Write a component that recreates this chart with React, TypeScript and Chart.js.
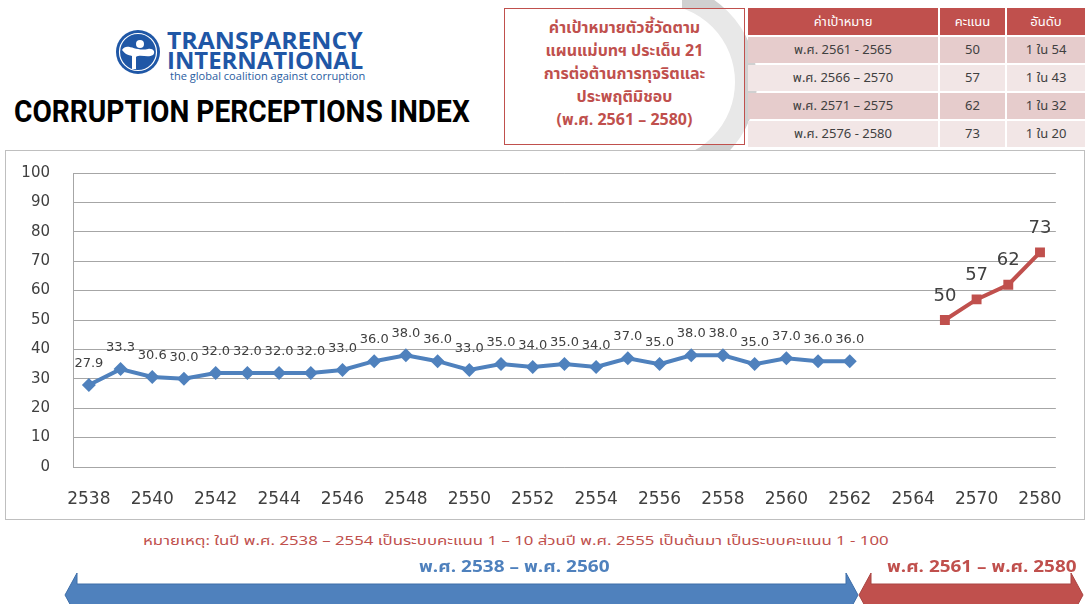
import React, { useEffect, useRef, useLayoutEffect } from "react";
import { Chart, registerables } from "chart.js";

Chart.register(...registerables);

// ---------------- data ----------------
const years = [
  "2538", "2539", "2540", "2541", "2542", "2543", "2544", "2545", "2546", "2547",
  "2548", "2549", "2550", "2551", "2552", "2553", "2554", "2555", "2556", "2557",
  "2558", "2559", "2560", "2561", "2562", "2563", "2564", "2565", "2570", "2575", "2580",
];
const actualScores = [
  27.9, 33.3, 30.6, 30.0, 32.0, 32.0, 32.0, 32.0, 33.0, 36.0,
  38.0, 36.0, 33.0, 35.0, 34.0, 35.0, 34.0, 37.0, 35.0, 38.0,
  38.0, 35.0, 37.0, 36.0, 36.0,
];
const targetScores = [50, 57, 62, 73];

const tableHeader = ["ค่าเป้าหมาย", "คะแนน", "อันดับ"];
const targetPeriods = ["พ.ศ. 2561 - 2565", "พ.ศ. 2566 – 2570", "พ.ศ. 2571 – 2575", "พ.ศ. 2576 - 2580"];
const targetRanks = ["1 ใน 54", "1 ใน 43", "1 ใน 32", "1 ใน 20"];

const boxLines = [
  "ค่าเป้าหมายตัวชี้วัดตาม",
  "แผนแม่บทฯ ประเด็น 21",
  "การต่อต้านการทุจริตและ",
  "ประพฤติมิชอบ",
  "(พ.ศ. 2561 – 2580)",
];
const noteText =
  "หมายเหตุ: ในปี พ.ศ. 2538 – 2554 เป็นระบบคะแนน 1 – 10 ส่วนปี พ.ศ. 2555 เป็นต้นมา เป็นระบบคะแนน 1 - 100";
const pastRange = "พ.ศ. 2538 – พ.ศ. 2560";
const futureRange = "พ.ศ. 2561 – พ.ศ. 2580";

// ---------------- styles ----------------
const BLUE = "#4f81bd";
const RED = "#c0504d";
const THAI = "Tahoma, 'Noto Sans Thai', 'Noto Sans Thai UI', 'Noto Sans', 'DejaVu Sans', sans-serif";
const NUM = "'DejaVu Sans', Verdana, sans-serif";

function Fit(props: { width: number; style: React.CSSProperties; children: any; left: number; top: number }) {
  const ref = useRef<HTMLSpanElement | null>(null);
  useLayoutEffect(() => {
    const el = ref.current;
    if (!el) return;
    el.style.transform = "none";
    const w = el.offsetWidth;
    if (w > 0) el.style.transform = `scaleX(${props.width / w})`;
  });
  return (
    <span
      ref={ref}
      style={{
        position: "absolute",
        left: props.left,
        top: props.top,
        whiteSpace: "nowrap",
        transformOrigin: "0 0",
        display: "inline-block",
        ...props.style,
      }}
    >
      {props.children}
    </span>
  );
}

const labelPlugin = {
  id: "pointValueLabels",
  afterDatasetsDraw(chart: any) {
    const ctx = chart.ctx;
    chart.data.datasets.forEach((ds: any, di: number) => {
      const meta = chart.getDatasetMeta(di);
      meta.data.forEach((el: any, i: number) => {
        const v = ds.data[i];
        if (v === null || v === undefined) return;
        ctx.save();
        ctx.font = ds.labelFont;
        ctx.fillStyle = "#404040";
        ctx.textAlign = "center";
        ctx.textBaseline = "bottom";
        const txt = ds.labelDecimals ? Number(v).toFixed(ds.labelDecimals) : String(v);
        ctx.fillText(txt, el.x, el.y - ds.labelOffset);
        ctx.restore();
      });
    });
  },
};

function CpiChart() {
  const canvasRef = useRef<HTMLCanvasElement | null>(null);
  useEffect(() => {
    const canvas = canvasRef.current;
    if (!canvas) return;
    const offset = years.length - targetScores.length;
    const blueData = years.map((_, i) => (i < actualScores.length ? actualScores[i] : null));
    const redData = years.map((_, i) => (i >= offset ? targetScores[i - offset] : null));
    const chart = new Chart(canvas, {
      type: "line",
      data: {
        labels: years,
        datasets: [
          {
            data: blueData,
            borderColor: BLUE,
            backgroundColor: BLUE,
            borderWidth: 4,
            pointStyle: "rectRot",
            pointRadius: 7,
            pointBorderWidth: 0,
            spanGaps: false,
            labelFont: `13px ${NUM}`,
            labelOffset: 15,
            labelDecimals: 1,
          } as any,
          {
            data: redData,
            borderColor: RED,
            backgroundColor: RED,
            borderWidth: 4,
            pointStyle: "rect",
            pointRadius: 7,
            pointBorderWidth: 0,
            spanGaps: false,
            labelFont: `18px ${NUM}`,
            labelOffset: 15,
            labelDecimals: 0,
          } as any,
        ],
      },
      options: {
        responsive: false,
        animation: false,
        layout: { padding: { top: 22, right: 23, left: 0, bottom: 0 } },
        plugins: { legend: { display: false }, tooltip: { enabled: false } },
        scales: {
          x: {
            type: "category",
            offset: true,
            grid: { display: false, drawTicks: false },
            border: { display: false },
            ticks: {
              autoSkip: false,
              maxRotation: 0,
              minRotation: 0,
              padding: 22,
              color: "#404040",
              font: { family: NUM, size: 17 },
              callback: (_v: any, idx: number) => (idx % 2 === 0 ? years[idx] : ""),
            },
            afterFit: (s: any) => {
              s.height = 51;
            },
          },
          y: {
            min: 0,
            max: 100,
            grid: { color: "#a6a6a6", drawTicks: false, lineWidth: 1 },
            border: { display: true, color: "#a6a6a6" },
            ticks: {
              stepSize: 10,
              padding: 23,
              color: "#404040",
              font: { family: NUM, size: 15 },
            },
            afterFit: (s: any) => {
              s.width = 67;
              s.paddingTop = 9;
              s.paddingBottom = 9;
            },
          },
        },
      } as any,
      plugins: [labelPlugin],
    });
    return () => chart.destroy();
  }, []);
  return <canvas ref={canvasRef} width={1078} height={367} style={{ position: "absolute", left: 6, top: 151 }} />;
}

function Logo() {
  const big: React.CSSProperties = {
    font: `bold 24px 'Open Sans', 'DejaVu Sans', sans-serif`,
    color: "#1f57a6",
    lineHeight: "24px",
  };
  return (
    <>
      <svg width={50} height={50} style={{ position: "absolute", left: 113, top: 27 }} viewBox="0 0 50 50">
        <circle cx={25} cy={25} r={22} fill="#1f57a6" />
        <circle cx={25} cy={25} r={18.5} fill="none" stroke="#ffffff" strokeWidth={1.2} />
        <circle cx={27} cy={17} r={4} fill="#ffffff" />
        <path d="M9 23 C 14 15, 22 25, 35 22 C 40 21, 43 25, 40 28 C 35 31, 27 27, 23 30 L 23 42 L 19 42 L 19 29 C 15 28, 12 27, 9 23 Z" fill="#ffffff" />
      </svg>
      <Fit left={167} top={28} width={196} style={big}>
        TRANSPARENCY
      </Fit>
      <Fit left={167} top={48} width={196} style={big}>
        INTERNATIONAL
      </Fit>
      <Fit left={170} top={70} width={195} style={{ font: `11px 'Open Sans', 'DejaVu Sans', sans-serif`, color: "#2a5d9f", lineHeight: "11px" }}>
        the global coalition against corruption
      </Fit>
    </>
  );
}

function TargetTable() {
  const cols = [
    { x: 748, w: 190 },
    { x: 940, w: 65 },
    { x: 1007, w: 78 },
  ];
  const rowsY = [37, 65, 93, 121];
  const rowBg = ["#e6cccc", "#f2e6e6", "#e6cccc", "#f2e6e6"];
  const cell = (key: string, x: number, y: number, w: number, h: number, bg: string, color: string, text: string) => (
    <div
      key={key}
      style={{
        position: "absolute",
        left: x,
        top: y,
        width: w,
        height: h,
        background: bg,
        color,
        font: `13px ${THAI}`,
        display: "flex",
        alignItems: "center",
        justifyContent: "center",
        whiteSpace: "nowrap",
      }}
    >
      {text}
    </div>
  );
  const out: any[] = [];
  tableHeader.forEach((h, c) => out.push(cell(`h${c}`, cols[c].x, 8, cols[c].w, 27, RED, "#ffffff", h)));
  targetPeriods.forEach((p, r) => {
    const vals = [p, String(targetScores[r]), targetRanks[r]];
    vals.forEach((v, c) => out.push(cell(`r${r}c${c}`, cols[c].x, rowsY[r], cols[c].w, 26, rowBg[r], "#404040", v)));
  });
  return <>{out}</>;
}

function Arrows() {
  const cy = 595;
  const bh = 11;
  const hh = 22;
  const hl = 12;
  const dbl = (x1: number, x2: number) =>
    `${x1},${cy} ${x1 + hl},${cy - hh} ${x1 + hl},${cy - bh} ${x2 - hl},${cy - bh} ${x2 - hl},${cy - hh} ${x2},${cy} ${x2 - hl},${cy + hh} ${x2 - hl},${cy + bh} ${x1 + hl},${cy + bh} ${x1 + hl},${cy + hh}`;
  return (
    <svg width={1086} height={604} style={{ position: "absolute", left: 0, top: 0, pointerEvents: "none" }}>
      <polygon points={dbl(65, 858)} fill={BLUE} stroke="#3e6ea8" strokeWidth={1} />
      <polygon points={dbl(859, 1083)} fill={RED} stroke="#a94542" strokeWidth={1} />
    </svg>
  );
}

export default function App() {
  return (
    <div
      style={{
        position: "absolute",
        left: 0,
        top: 0,
        width: 1086,
        height: 604,
        overflow: "hidden",
        background: "#ffffff",
        fontFamily: THAI,
      }}
    >
      {/* decorative grey swoosh, only its right part shows */}
      <div style={{ position: "absolute", left: 682, top: 0, width: 80, height: 160, overflow: "hidden" }}>
        <div
          style={{
            position: "absolute",
            left: -125,
            top: -18,
            width: 200,
            height: 200,
            borderRadius: "50%",
            border: "22px solid #d0d0d0",
            boxSizing: "border-box",
          }}
        />
      </div>
      <Logo />
      <Fit left={14} top={93} width={456} style={{ font: `bold 32px 'Liberation Sans Narrow', Roboto, 'DejaVu Sans', sans-serif`, color: "#000000", lineHeight: "36px" }}>
        CORRUPTION PERCEPTIONS INDEX
      </Fit>

      {/* red target box */}
      <div
        style={{
          position: "absolute",
          left: 504,
          top: 8,
          width: 241,
          height: 137,
          border: `1.5px solid ${RED}`,
          boxSizing: "border-box",
          background: "rgba(255,255,255,0.5)",
        }}
      />
      {boxLines.map((line, i) => (
        <div
          key={i}
          style={{
            position: "absolute",
            left: 504,
            top: 17 + i * 23,
            width: 241,
            textAlign: "center",
            font: `bold 16px ${THAI}`,
            color: RED,
            lineHeight: "23px",
            whiteSpace: "nowrap",
          }}
        >
          {line}
        </div>
      ))}

      <TargetTable />

      {/* chart frame */}
      <div
        style={{
          position: "absolute",
          left: 5,
          top: 150,
          width: 1080,
          height: 370,
          border: "1px solid #bfbfbf",
          boxSizing: "border-box",
          background: "#ffffff",
        }}
      />
      <CpiChart />

      <Fit left={143} top={532} width={745} style={{ font: `13px ${THAI}`, color: RED, lineHeight: "18px" }}>
        {noteText}
      </Fit>
      <Arrows />
      <Fit left={419} top={557} width={190} style={{ font: `bold 16px ${THAI}`, color: BLUE, lineHeight: "20px" }}>
        {pastRange}
      </Fit>
      <Fit left={887} top={557} width={189} style={{ font: `bold 16px ${THAI}`, color: RED, lineHeight: "20px" }}>
        {futureRange}
      </Fit>
    </div>
  );
}
